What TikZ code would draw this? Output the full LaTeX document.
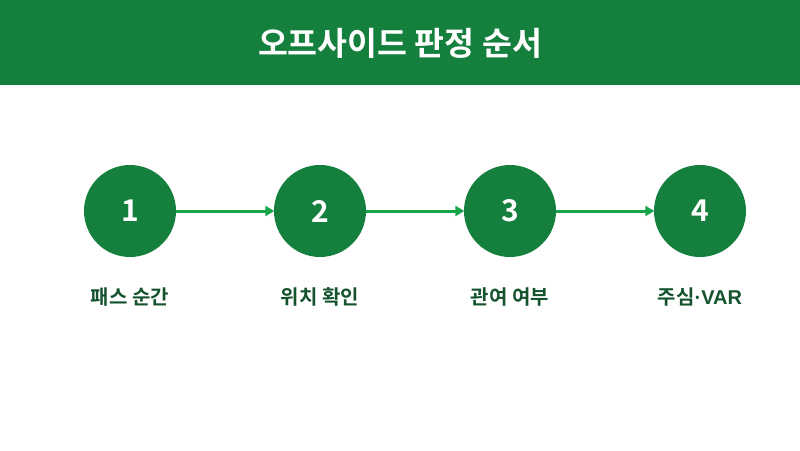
\documentclass[tikz,border=0pt]{standalone}
\usepackage{fontspec}
\setmainfont{Noto Sans CJK KR}[BoldFont={* Bold}]
\newfontfamily\latinfont{Liberation Sans}
\usetikzlibrary{arrows.meta}
\definecolor{headgreen}{HTML}{15803D}
\definecolor{arrowgreen}{HTML}{16A34A}
\definecolor{labelgreen}{HTML}{14532D}
\tikzset{
    step circle/.style={circle, fill=headgreen, draw=none, minimum size=92pt, inner sep=0pt, text=white, font=\bfseries\fontsize{30}{32}\selectfont},
    step label/.style={text=labelgreen, font=\bfseries\fontsize{20}{22}\selectfont, inner sep=0pt},
    step arrow/.style={arrowgreen, line width=3pt, -{Triangle[length=9pt, width=10pt]}, shorten >=-0.5pt}
}

\begin{document}
\begin{tikzpicture}[x=1pt, y=-1pt]
        \useasboundingbox (0,0) rectangle (800,450);
        \fill[headgreen] (0,0) rectangle (800,85);
        \node (title) [text=white, font=\bfseries\fontsize{32.5}{34}\selectfont, inner sep=0pt] at (400,43) {오프사이드 판정 순서};
        \node (s1) [step circle] at (130,211) {1};
        \node (s2) [step circle] at (320,211) {2};
        \node (s3) [step circle] at (510,211) {3};
        \node (s4) [step circle] at (700,211) {4};
        \node (l1) [step label] at (130,297) {패스 순간};
        \node (l2) [step label] at (320,297) {위치 확인};
        \node (l3) [step label] at (510,297) {관여 여부};
        \node (l4) [step label] at (700,297) {주심{\latinfont\bfseries ·VAR}};
        \draw[step arrow] (s1) -- (s2);
        \draw[step arrow] (s2) -- (s3);
        \draw[step arrow] (s3) -- (s4);
\end{tikzpicture}
\end{document}
